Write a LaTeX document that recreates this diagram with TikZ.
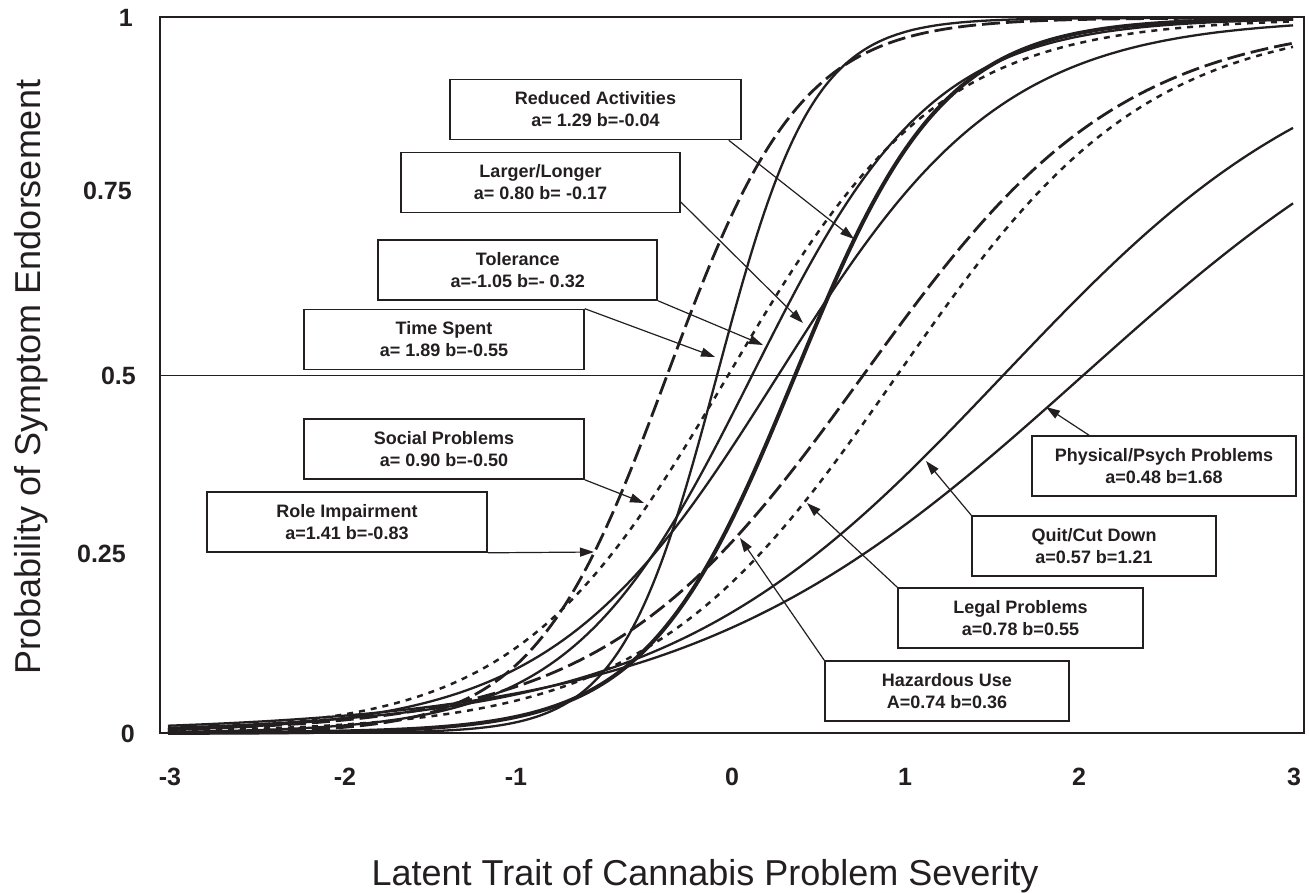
\documentclass[tikz,border=0pt]{standalone}
\usepackage{fontspec}
\setmainfont{Liberation Sans}
\usetikzlibrary{arrows.meta}
\definecolor{ink}{RGB}{35,31,32}
\begin{document}
\begin{tikzpicture}[x=1pt,y=-1pt,
  ticky/.style={anchor=east,font=\fontsize{25}{30}\selectfont\bfseries,text=ink,inner sep=0pt},
  tickx/.style={anchor=center,font=\fontsize{25}{30}\selectfont\bfseries,text=ink,inner sep=0pt},
  axtitle/.style={anchor=base,font=\fontsize{36}{40}\selectfont,text=ink,inner sep=0pt},
  lbl/.style={draw=ink,line width=1.6pt,fill=white,align=center,
    font=\fontsize{18}{22}\selectfont\bfseries,text=ink,inner sep=0pt,minimum height=60pt},
  ptr/.style={draw=ink,line width=1.2pt,-{Triangle[length=14pt,width=9pt]}},
  icc/.style={draw=ink,line width=2.3pt,line join=round},
  iccthick/.style={draw=ink,line width=4pt,line join=round},
  icclong/.style={draw=ink,line width=2.8pt,dash pattern=on 18pt off 6pt},
  iccshort/.style={draw=ink,line width=2.5pt,dash pattern=on 6pt off 6pt}
]
\useasboundingbox (0,0) rectangle (1309,892);

% frame and 0.5 reference line
\draw[ink,line width=2pt] (160,17) rectangle (1304,733);
\draw[ink,line width=1pt] (160,375) -- (1304,375);

% tick labels
\node[ticky] (y1) at (133,18) {1};
\node[ticky] (y075) at (132,191) {0.75};
\node[ticky] (y05) at (136,376) {0.5};
\node[ticky] (y025) at (126,554) {0.25};
\node[ticky] (y0) at (135,734) {0};
\node[tickx] (xm3) at (170,777) {-3};
\node[tickx] (xm2) at (345,777) {-2};
\node[tickx] (xm1) at (516,777) {-1};
\node[tickx] (x0) at (732,777) {0};
\node[tickx] (x1) at (905,777) {1};
\node[tickx] (x2) at (1079,777) {2};
\node[tickx] (x3) at (1294,777) {3};

% axis titles
\node[axtitle,rotate=90] (ytitle) at (40,377) {Probability of Symptom Endorsement};
\node[axtitle] (xtitle) at (705,885) {Latent Trait of Cannabis Problem Severity};

% curves
\newcommand\iccy[2]{733-715/(1+exp(-max(-9,min(9,(\x-#1)/#2))))}
\draw[icclong]  plot[domain=168:1293,samples=140,smooth] (\x,{\iccy{667}{67}});   % Role Impairment
\draw[icc]      plot[domain=168:1293,samples=140,smooth] (\x,{\iccy{717}{48}});   % Time Spent
\draw[iccshort] plot[domain=168:1293,samples=140,smooth] (\x,{\iccy{728}{106}});  % Social Problems
\draw[icc]      plot[domain=168:1293,samples=140,smooth] (\x,{\iccy{752}{90}});   % Tolerance
\draw[icc]      plot[domain=168:1293,samples=140,smooth] (\x,{\iccy{778}{113}});  % Larger/Longer
\draw[iccthick] plot[domain=168:1293,samples=140,smooth] (\x,{\iccy{795}{74}});   % Reduced Activities
\draw[icclong]  plot[domain=168:1293,samples=140,smooth] (\x,{\iccy{863}{130}});  % Hazardous Use
\draw[iccshort] plot[domain=168:1293,samples=140,smooth] (\x,{\iccy{897}{125}});  % Legal Problems
\draw[icc]      plot[domain=168:1293,samples=140,smooth] (\x,{\iccy{1003}{170}}); % Quit/Cut Down
\draw[icc]      plot[domain=168:1293,samples=140,smooth] (\x,{\iccy{1083}{200}}); % Physical/Psych

% label boxes
\node[lbl,minimum width=291pt] (ra) at (595.5,109.5) {Reduced Activities\\a= 1.29 b=-0.04};
\node[lbl,minimum width=279pt] (ll) at (540.5,182.5) {Larger/Longer\\a= 0.80 b= -0.17};
\node[lbl,minimum width=279pt] (to) at (517.75,270) {Tolerance\\a=-1.05 b=- 0.32};
\node[lbl,minimum width=280pt] (ts) at (444,339.5) {Time Spent\\a= 1.89 b=-0.55};
\node[lbl,minimum width=280pt] (sp) at (444,449) {Social Problems\\a= 0.90 b=-0.50};
\node[lbl,minimum width=280pt] (ri) at (347,522) {Role Impairment\\a=1.41 b=-0.83};
\node[lbl,minimum width=264pt] (pp) at (1164,466) {Physical/Psych Problems\\a=0.48 b=1.68};
\node[lbl,minimum width=244pt] (qc) at (1094,546) {Quit/Cut Down\\a=0.57 b=1.21};
\node[lbl,minimum width=245pt] (lp) at (1020.5,618) {Legal Problems\\a=0.78 b=0.55};
\node[lbl,minimum width=244pt] (hu) at (947,691) {Hazardous Use\\A=0.74 b=0.36};

% arrow tips
\coordinate (tra) at (854,239);
\coordinate (tll) at (803,323);
\coordinate (tto) at (763,345);
\coordinate (tts) at (715,357);
\coordinate (tsp) at (644,503);
\coordinate (tri) at (594,552);
\coordinate (tpp) at (1046,407);
\coordinate (tqc) at (926,461);
\coordinate (tlp) at (807,503);
\coordinate (thu) at (740,538);

\draw[ptr] ([xshift=-13pt]ra.south east) -- (tra);
\draw[ptr] ([yshift=-19.5pt]ll.east) -- (tll);
\draw[ptr] (to.south east) -- (tto);
\draw[ptr] (ts.north east) -- (tts);
\draw[ptr] (sp.south east) -- (tsp);
\draw[ptr] (ri.south east) -- (tri);
\draw[ptr] ([xshift=-75pt]pp.north) -- (tpp);
\draw[ptr] (qc.north west) -- (tqc);
\draw[ptr] (lp.north west) -- (tlp);
\draw[ptr] (hu.north west) -- (thu);
\end{tikzpicture}
\end{document}
